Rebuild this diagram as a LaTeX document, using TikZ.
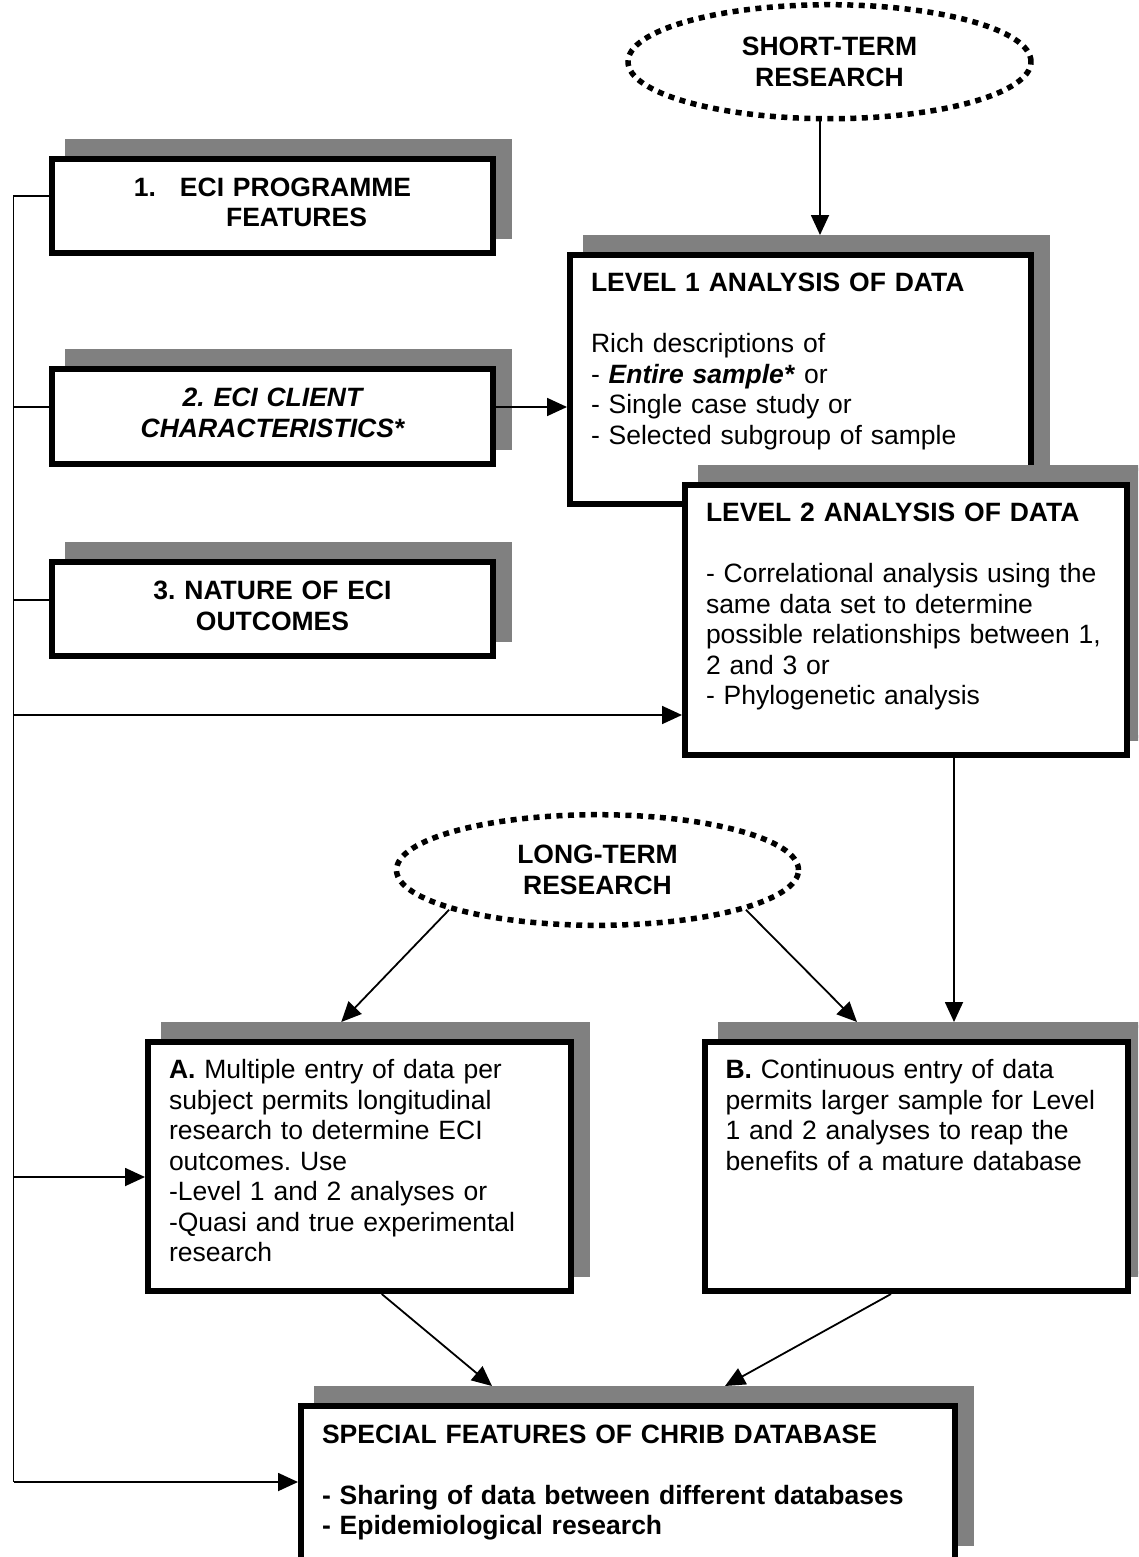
\documentclass[tikz,border=0pt]{standalone}
\usepackage{fontspec}
\setmainfont{Liberation Sans}
\usetikzlibrary{shapes.geometric,shadows,arrows.meta}

\newcommand{\diagfont}{\fontsize{26.5}{30.5}\selectfont\frenchspacing}

\tikzset{
  box/.style={draw, line width=6pt, fill=white, rectangle, anchor=north west,
    inner xsep=21pt, inner ysep=0pt, align=left, text height=36.5pt, font=\diagfont,
    drop shadow={shadow xshift=16pt, shadow yshift=17pt, opacity=1, fill=gray, draw=gray, line width=6pt}},
  term/.style={ellipse, draw, line width=5.5pt, dash pattern=on 6pt off 5.5pt,
    align=center, font=\diagfont\bfseries},
  conn/.style={line width=1.8pt},
  arr/.style={conn, -{Triangle[length=20pt,width=18pt]}}
}

\begin{document}
\begin{tikzpicture}[x=1pt, y=-1pt]
%   \draw[help lines] (0,0) grid (1138,1557);
    \useasboundingbox (0,0) rectangle (1138,1557);
    \clip (0,0) rectangle (1138,1557);

    % the three sets of data
    \node[box, text width=399pt, align=center, text height=37.5pt, text depth=56.5pt, font=\diagfont\bfseries] (eci1) at (49,156) {1.\hspace{24pt}ECI PROGRAMME\\\hspace*{48pt}FEATURES};
    \node[box, text width=399pt, align=center, text height=37.5pt, text depth=57.5pt, font=\diagfont\bfseries\itshape] (eci2) at (49,366) {2. ECI CLIENT\\CHARACTERISTICS*};
    \node[box, text width=399pt, align=center, text height=37.5pt, text depth=56.5pt, font=\diagfont\bfseries] (eci3) at (49,559) {3. NATURE OF ECI\\OUTCOMES};

    % research
    \node[term, minimum width=403pt, minimum height=114pt] (short) at (829.5,61.7) {SHORT-TERM\\RESEARCH};
    \node[term, minimum width=402pt, minimum height=110.6pt] (long) at (597.5,870) {LONG-TERM\\RESEARCH};

    % analysis levels
    \node[box, text width=419pt, text depth=212.5pt] (lev1) at (567,252) {\textbf{LEVEL 1 ANALYSIS OF DATA}\\[30.5pt]Rich descriptions of\\- \textbf{\textit{Entire sample*}} or\\- Single case study or\\- Selected subgroup of sample};
    \node[box, text width=400pt, text depth=233.5pt] (lev2) at (682,482) {\textbf{LEVEL 2 ANALYSIS OF DATA}\\[30.5pt]- Correlational analysis using the\\same data set to determine\\possible relationships between 1,\\2 and 3 or\\- Phylogenetic analysis};

    \node[box, text width=380.5pt, text depth=212.5pt] (entryA) at (145,1039) {\textbf{A.} Multiple entry of data per\\subject permits longitudinal\\research to determine ECI\\outcomes. Use\\-Level 1 and 2 analyses or\\-Quasi and true experimental\\research};
    \node[box, text width=381pt, text depth=212.5pt] (entryB) at (701.5,1039) {\textbf{B.} Continuous entry of data\\permits larger sample for Level\\1 and 2 analyses to reap the\\benefits of a mature database};

    \node[box, text width=611.5pt, text height=37.3pt, text depth=116.7pt, font=\diagfont\bfseries] (special) at (298,1403) {SPECIAL FEATURES OF CHRIB DATABASE\\[30.5pt]- Sharing of data between different databases\\- Epidemiological research};

    % trunk on the left
    \coordinate (t1) at (13.5,196);
    \coordinate (t2) at (13.5,407);
    \coordinate (t3) at (13.5,600);
    \coordinate (t4) at (13.5,715);
    \coordinate (t5) at (13.5,1177);
    \coordinate (t6) at (13.5,1482);
    \draw[conn] (t1 -| eci1.west) -- (t1) -- (t6);
    \draw[conn] (t2) -- (t2 -| eci2.west);
    \draw[conn] (t3) -- (t3 -| eci3.west);
    \draw[arr] (t4) -- (t4 -| lev2.west);
    \draw[arr] (t5) -- (t5 -| entryA.west);
    \draw[arr] (t6) -- (t6 -| special.west);
    \draw[arr] (t2 -| eci2.east) -- (t2 -| lev1.west);

    \draw[arr] ([shift={(-9.5,0)}]short.south) -- ([shift={(19.5,-17)}]lev1.north);
    \draw[arr] ([shift={(48,0)}]lev2.south) -- ([shift={(38,-17)}]entryB.north);
    \draw[arr] (long.-165) -- ([shift={(-18,-17)}]entryA.north);
    \draw[arr] (long.-15) -- ([shift={(-59,-17)}]entryB.north);
    \draw[arr] ([shift={(22.5,0)}]entryA.south) -- ([shift={(-135.75,-17)}]special.north);
    \draw[arr] ([shift={(-25,0)}]entryB.south) -- ([shift={(97.25,-17)}]special.north);
\end{tikzpicture}
\end{document}
